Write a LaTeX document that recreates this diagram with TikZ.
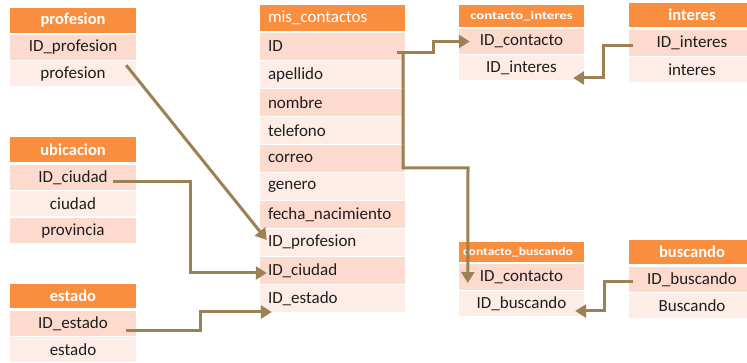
\documentclass[tikz,border=0pt]{standalone}
\usepackage{fontspec}
\setmainfont{Carlito}
\usetikzlibrary{arrows.meta,calc}
\definecolor{hdr}{HTML}{F98E3F}
\definecolor{rdark}{HTML}{FDDACE}
\definecolor{rlight}{HTML}{FDEDE6}
\definecolor{conn}{HTML}{9C8155}
\definecolor{txt}{HTML}{1E1E1E}
\tikzset{
  cell/.style={inner sep=0pt, text=txt, font=\fontsize{17}{19}\selectfont, anchor=center},
  hdrbox/.style={cell, fill=hdr, text=white, font=\bfseries\fontsize{16.5}{18}\selectfont},
  dk/.style={cell, fill=rdark},
  lt/.style={cell, fill=rlight},
  wA/.style={minimum width=126pt},
  wM/.style={minimum width=145pt, text width=129pt, align=left, inner xsep=8pt},
  wB/.style={minimum width=125pt},
  wC/.style={minimum width=126pt},
  link/.style={draw=conn, line width=3pt, -{Triangle[length=11pt,width=13pt]}},
}
\begin{document}
\begin{tikzpicture}[x=1pt,y=-1pt]
\useasboundingbox (0,0) rectangle (747,363);
\fill[white] (0,0) rectangle (747,363);
% profesion
\node[hdrbox,wA,minimum height=25pt] (ph) at (73,20.5) {profesion};
\node[dk,wA,minimum height=25pt] (p1) at (73,47.5) {ID\_profesion};
\node[lt,wA,minimum height=25pt] (p2) at (73,74) {profesion};
% ubicacion
\node[hdrbox,wA,minimum height=25pt] (uh) at (73,149.5) {ubicacion};
\node[dk,wA,minimum height=25pt] (u1) at (73,177.5) {ID\_ciudad};
\node[lt,wA,minimum height=25pt] (u2) at (73,204) {ciudad};
\node[dk,wA,minimum height=25pt] (u3) at (73,231) {provincia};
% estado
\node[hdrbox,wA,minimum height=24pt] (eh) at (73,296) {estado};
\node[dk,wA,minimum height=25pt] (e1) at (73,323.5) {ID\_estado};
\node[lt,wA,minimum height=25pt] (e2) at (73,349.5) {estado};
% mis_contactos
\node[hdrbox,wM,minimum height=26pt,font=\fontsize{17}{19}\selectfont] (mh) at (332.5,18) {mis\_contactos};
\node[dk,wM,minimum height=27pt] (m1) at (332.5,46.5) {ID};
\node[lt,wM,minimum height=27pt] (m2) at (332.5,74.5) {apellido};
\node[dk,wM,minimum height=27pt] (m3) at (332.5,102.5) {nombre};
\node[lt,wM,minimum height=27pt] (m4) at (332.5,130.5) {telefono};
\node[dk,wM,minimum height=27pt] (m5) at (332.5,158.5) {correo};
\node[lt,wM,minimum height=27pt] (m6) at (332.5,186.5) {genero};
\node[dk,wM,minimum height=27pt] (m7) at (332.5,214.5) {fecha\_nacimiento};
\node[lt,wM,minimum height=27pt] (m8) at (332.5,242.5) {ID\_profesion};
\node[dk,wM,minimum height=27pt] (m9) at (332.5,270.5) {ID\_ciudad};
\node[lt,wM,minimum height=27pt] (m10) at (332.5,298.5) {ID\_estado};
% contacto_interes
\node[hdrbox,wB,minimum height=22pt,font=\bfseries\fontsize{11.5}{13}\selectfont] (ch) at (521.5,16) {\scalebox{1.28}[1]{contacto\_interes}};
\node[dk,wB,minimum height=25pt] (c1) at (521.5,41.5) {ID\_contacto};
\node[lt,wB,minimum height=25pt] (c2) at (521.5,67.5) {ID\_interes};
% interes
\node[hdrbox,wC,minimum height=24pt] (ih) at (692,15) {interes};
\node[dk,wC,minimum height=26pt] (i1) at (692,43) {ID\_interes};
\node[lt,wC,minimum height=25pt] (i2) at (692,69.5) {interes};
% contacto_buscando
\node[hdrbox,wB,minimum height=20pt] (bh) at (521.5,252) {};
\begin{scope}
\clip (bh.north west) rectangle (bh.south east);
\node[cell,text=white,font=\bfseries\fontsize{11.5}{13}\selectfont] (bht) at (518,252) {\scalebox{1.18}[1]{contacto\_buscando}};
\end{scope}
\node[dk,wB,minimum height=26pt] (b1) at (521.5,277) {ID\_contacto};
\node[lt,wB,minimum height=25pt] (b2) at (521.5,303.5) {ID\_buscando};
% buscando
\node[hdrbox,wC,minimum height=24pt] (sh) at (692,252) {buscando};
\node[dk,wC,minimum height=25pt] (s1) at (692,279.5) {ID\_buscando};
\node[lt,wC,minimum height=25pt] (s2) at (692,305.5) {Buscando};
% connectors
\coordinate (a1) at ($(p1.south east)+(-10,5)$);
\coordinate (t1) at ($(m8.west)+(7,-2.5)$);
\draw[link] (a1) -- (t1);
\coordinate (a2) at ($(u1.east)+(-23,4.5)$);
\coordinate (t2) at ($(m9.west)+(7,2.5)$);
\draw[link] (a2) -- (190,182) -- (190,273) -- (t2);
\coordinate (a3) at ($(e1.east)+(-10,7.5)$);
\coordinate (t3) at ($(m10.west)+(12,13.5)$);
\draw[link] (a3) -- (200,331) -- (200,312) -- (t3);
\coordinate (a4) at ($(m1.east)+(-8,6.5)$);
\coordinate (t4) at ($(c1.west)+(11,0)$);
\draw[link] (a4) -- (433,53) -- (433,41.5) -- (t4);
\coordinate (a5) at (403,53);
\coordinate (t5) at ($(b1.west)+(9,6)$);
\draw[link] (a5) -- (403,168) -- (468,168) -- (t5);
\coordinate (a6) at ($(i1.west)+(4,3)$);
\coordinate (t6) at ($(c2.east)+(-11,10.5)$);
\draw[link] (a6) -- (603,46) -- (603,78) -- (t6);
\coordinate (a7) at ($(s1.west)+(4,2.5)$);
\coordinate (t7) at ($(b2.east)+(-9,7.5)$);
\draw[link] (a7) -- (604,282) -- (604,311) -- (t7);
\end{tikzpicture}
\end{document}
